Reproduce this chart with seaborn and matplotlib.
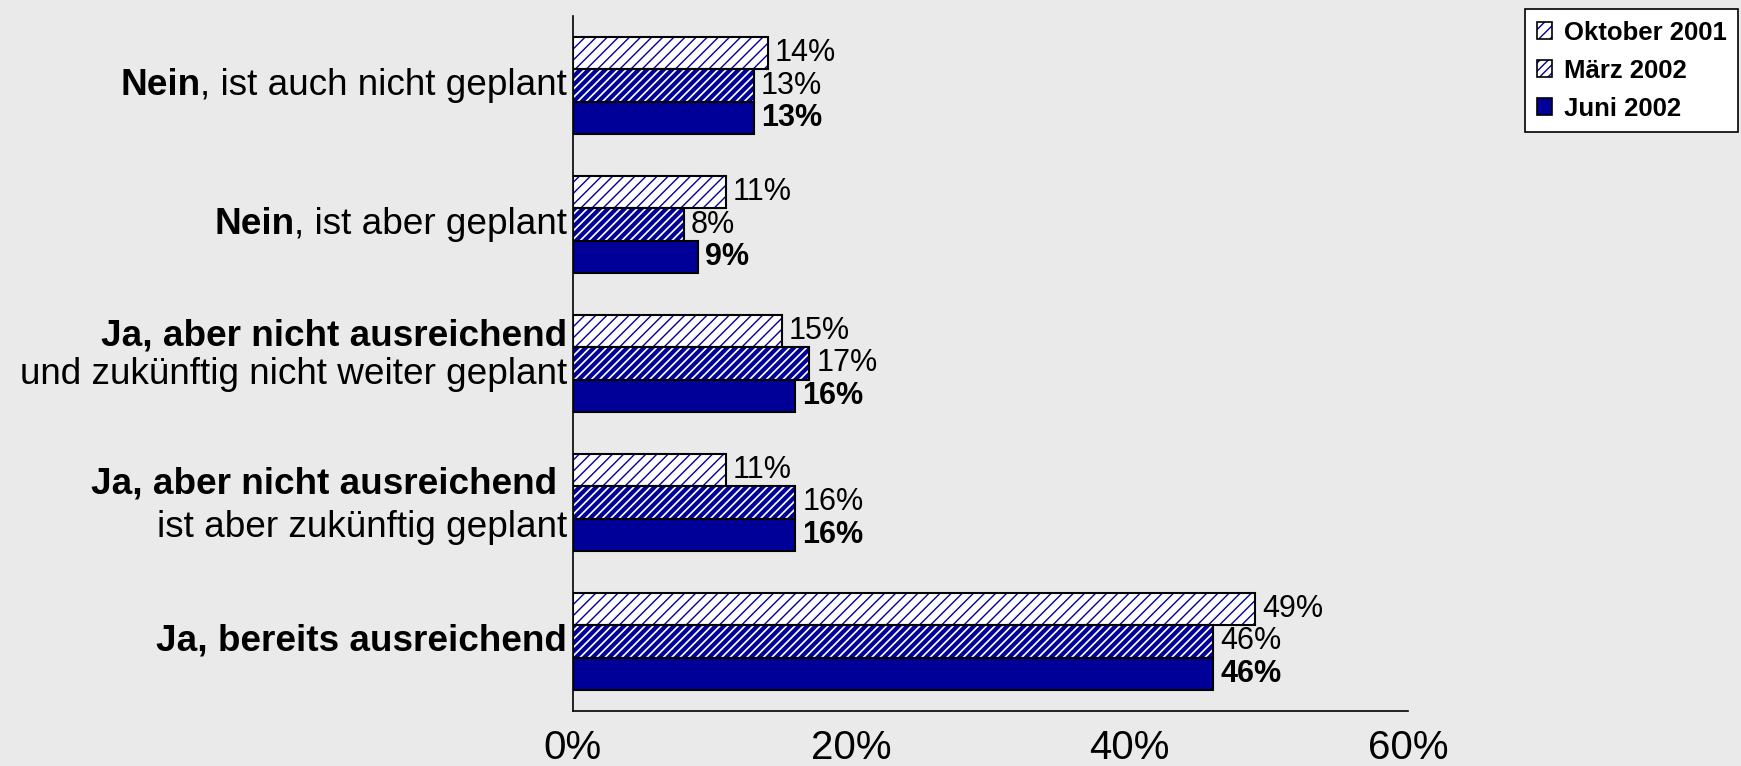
import numpy as np
import pandas as pd
import matplotlib
matplotlib.use("Agg")
import matplotlib.pyplot as plt
from matplotlib.patches import Rectangle
from matplotlib.legend_handler import HandlerTuple
import seaborn as sns

# Daten
kategorien = ["nein_nicht_geplant", "nein_geplant", "ja_nicht_weiter",
              "ja_zukuenftig", "ja_ausreichend"]
# Beschriftung je Kategorie: Zeilen aus (Text, fett)
beschriftungen = [
    [[("Nein", True), (", ist auch nicht geplant", False)]],
    [[("Nein", True), (", ist aber geplant", False)]],
    [[("Ja, aber nicht ausreichend", True)],
     [("und zukünftig nicht weiter geplant", False)]],
    [[("Ja, aber nicht ausreichend ", True)],
     [("ist aber zukünftig geplant", False)]],
    [[("Ja, bereits ausreichend", True)]],
]
serien = ["Oktober 2001", "März 2002", "Juni 2002"]
oktober_2001 = [14, 11, 15, 11, 49]
maerz_2002 = [13, 8, 17, 16, 46]
juni_2002 = [13, 9, 16, 16, 46]
x_ticks = [0, 20, 40, 60]

BLAU = "#000099"
GRAU = "#EAEAEA"

df = pd.DataFrame({
    "Kategorie": kategorien * 3,
    "Zeitpunkt": np.repeat(serien, len(kategorien)),
    "Wert": oktober_2001 + maerz_2002 + juni_2002,
})

sns.set_style("white")
plt.rcParams["font.family"] = ["Liberation Sans", "DejaVu Sans"]
plt.rcParams["text.color"] = "black"
plt.rcParams["xtick.color"] = "black"
plt.rcParams["ytick.color"] = "black"

fig = plt.figure(figsize=(17.41, 7.66), dpi=100, facecolor=GRAU)
ax = fig.add_axes([0.329, 0.072, 0.4797, 0.907], facecolor=GRAU)

sns.barplot(data=df, x="Wert", y="Kategorie", hue="Zeitpunkt", orient="h",
            order=kategorien, hue_order=serien, width=0.7, saturation=1,
            palette=["white", "white", BLAU], edgecolor="black", linewidth=1.5,
            legend=False, ax=ax)

# Schraffur (blau) + schwarzer Rahmen
schraffur = [("///", 1.0), ("////", 3.0), (None, 0)]


def schraffieren(p, h, hlw):
    p.set_hatch(h)
    p.set_edgecolor(BLAU)   # Schraffurfarbe folgt der Kantenfarbe
    p.set_linewidth(0)
    p.set_hatch_linewidth(hlw)


for cont, (h, hlw) in zip(ax.containers, schraffur):
    if h is None:
        continue
    for p in cont.patches:
        schraffieren(p, h, hlw)
        ax.add_patch(Rectangle(p.get_xy(), p.get_width(), p.get_height(),
                               fill=False, ec="black", lw=1.5, zorder=p.get_zorder() + 0.1))

# Werte an den Balken
for cont, werte, fett in zip(ax.containers, [oktober_2001, maerz_2002, juni_2002],
                             ["normal", "normal", "bold"]):
    ax.bar_label(cont, labels=[f"{v}%" for v in werte], padding=5,
                 fontsize=22, fontweight=fett, color="black")

ax.set_xlim(0, 60)
ax.set_ylim(4.5, -0.5)
ax.set_xticks(x_ticks)
ax.set_xticklabels([f"{t}%" for t in x_ticks], fontsize=29,
                   family=["Liberation Sans Narrow", "Liberation Sans"])
ax.set_yticks(range(len(kategorien)))
ax.set_yticklabels([])
ax.set_yticks(np.arange(-0.5, len(kategorien)), minor=True)
ax.tick_params(axis="y", which="major", length=0)
ax.tick_params(axis="y", which="minor", length=7, width=1.2, color="black", direction="out")
ax.tick_params(axis="x", length=8, width=1.2, color="black", direction="out", pad=5)
ax.set_xlabel("")
ax.set_ylabel("")
for s in ["top", "right"]:
    ax.spines[s].set_visible(False)
for s in ["left", "bottom"]:
    ax.spines[s].set_color("black")
    ax.spines[s].set_linewidth(1.2)
ax.grid(False)

# Kategorie-Beschriftungen (gemischt fett / normal)
zeilen_versatz = {2: [-0.2, 0.08], 3: [-0.13, 0.18]}
trans = ax.get_yaxis_transform()
for i, zeilen in enumerate(beschriftungen):
    versatz = [0.0] if len(zeilen) == 1 else zeilen_versatz[i]
    for zeile, dy in zip(zeilen, versatz):
        text, fett = zeile[-1]
        prev = ax.annotate(text, xy=(0, i + dy), xycoords=trans, xytext=(-4, 0),
                           textcoords="offset points", ha="right", va="center",
                           fontsize=26.6, fontweight="bold" if fett else "normal",
                           color="black", annotation_clip=False)
        for text, fett in reversed(zeile[:-1]):
            prev = ax.annotate(text, xy=(0, 0), xycoords=prev, ha="right", va="bottom",
                               fontsize=26.6, fontweight="bold" if fett else "normal",
                               color="black")

# Legende
handles = []
for (h, hlw), fc in zip([("///", 0.8), ("////", 1.8), (None, 0)], ["white", "white", BLAU]):
    r = Rectangle((0, 0), 1, 1, facecolor=fc, edgecolor=BLAU, lw=0)
    if h is not None:
        schraffieren(r, h, hlw)
    rahmen = Rectangle((0, 0), 1, 1, fill=False, edgecolor="black", lw=1.2)
    handles.append((r, rahmen))
leg = fig.legend(handles, serien, handler_map={tuple: HandlerTuple(ndivide=1, pad=0)},
                 loc="upper left", bbox_to_anchor=(1525 / 1741, 1 - 9 / 766),
                 prop={"weight": "bold", "size": 18.5}, frameon=True, fancybox=False,
                 edgecolor="black", facecolor="white", framealpha=1,
                 handlelength=0.62, handleheight=0.62, handletextpad=0.45,
                 labelspacing=0.55, borderpad=0.45, borderaxespad=0)
leg.get_frame().set_linewidth(1.2)
for t in leg.get_texts():
    t.set_color("black")

fig.savefig("out.png", dpi=100, facecolor=GRAU)
